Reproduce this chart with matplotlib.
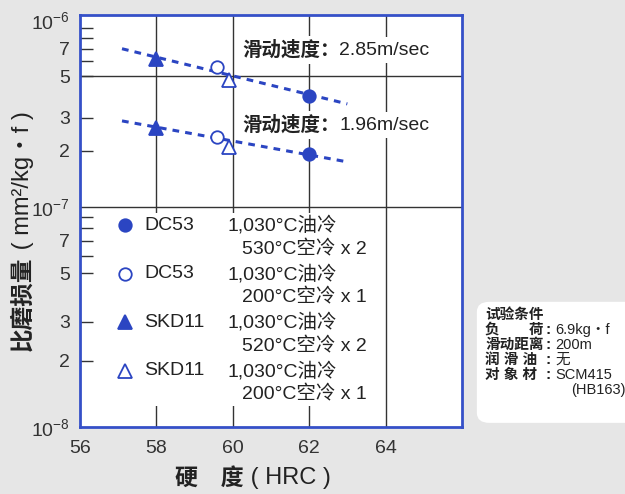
import numpy as np
import matplotlib.pyplot as plt
from matplotlib.patches import Rectangle, FancyBboxPatch
from matplotlib.ticker import FixedLocator, FixedFormatter

plt.rcParams['font.family'] = ['Liberation Sans', 'Noto Sans CJK SC']
plt.rcParams['mathtext.fontset'] = 'custom'
plt.rcParams['mathtext.rm'] = 'Liberation Sans'
plt.rcParams['mathtext.it'] = 'Liberation Sans:italic'

# --- data ---
materials = ['DC53', 'DC53', 'SKD11', 'SKD11']
heat_1 = ['1,030°C油冷', '1,030°C油冷', '1,030°C油冷', '1,030°C油冷']
heat_2 = ['530°C空冷 x 2', '200°C空冷 x 1', '520°C空冷 x 2', '200°C空冷 x 1']
hrc = [62.0, 59.6, 58.0, 59.9]
wear_285 = [3.9e-7, 5.6e-7, 6.2e-7, 4.75e-7]   # 2.85 m/sec
wear_196 = [1.92e-7, 2.36e-7, 2.65e-7, 2.08e-7]  # 1.96 m/sec
trend_x = [57.1, 63.0]
trend_285 = [7.0e-7, 3.55e-7]
trend_196 = [2.88e-7, 1.74e-7]

cond_labels = ['负　　荷', '滑动距离', '润 滑 油', '对 象 材']
cond_values = ['6.9kg・f', '200m', '无', 'SCM415']

# --- styles ---
blue = '#2b45c2'
ink = '#222222'
marks = ['o', 'o', '^', '^']
filled = [True, False, True, False]


# the printed chart has a shorter upper decade than lower decade
def fwd(y):
    l = np.log10(np.clip(y, 1e-300, None)) + 7
    return np.where(l >= 0, l * 0.85, l)


def inv(v):
    v = np.asarray(v, dtype=float)
    return np.where(v >= 0, 10 ** (v / 0.85 - 7), 10 ** (v - 7))


fig = plt.figure(figsize=(6.25, 4.94), dpi=100, facecolor='#e6e6e6')
ax = fig.add_axes([0.128, 0.1356, 0.611, 0.834])
ax.set_facecolor('white')
ax.set_yscale('function', functions=(fwd, inv))
ax.set_xlim(56, 66)
ax.set_ylim(1e-8, 1.06e-6)

# grid
for gx in (58, 60, 62, 64):
    ax.axvline(gx, color='#333333', lw=1.0, zorder=1)
for gy in (5e-7, 1e-7):
    ax.axhline(gy, color='#333333', lw=1.0, zorder=1)

# white legend area that hides the grid
ax.add_patch(Rectangle((0.05, 0.05), 0.735, 0.47, transform=ax.transAxes,
                       facecolor='white', edgecolor='none', zorder=2))

# trend lines
for ty in (trend_285, trend_196):
    ax.plot(trend_x, ty, color=blue, lw=2.2, ls=(0, (2.2, 2.0)), zorder=3)

# points
for i in range(len(hrc)):
    fc = blue if filled[i] else 'white'
    ms = 9 if marks[i] == 'o' else 10
    for wy in (wear_285, wear_196):
        ax.plot(hrc[i], wy[i], marker=marks[i], ms=ms, mfc=fc, mec=blue,
                mew=1.3, ls='none', zorder=4)

# speed labels
for ypos, spd in ((0.915, '2.85m/sec'), (0.733, '1.96m/sec')):
    t1 = ax.text(0.424, ypos, '滑动速度：', transform=ax.transAxes, fontsize=14,
                 fontweight='bold', color=ink, va='center', ha='left',
                 bbox=dict(facecolor='white', edgecolor='none', pad=3), zorder=5)
    ax.annotate(spd, xy=(1, 0.5), xycoords=t1, va='center', ha='left',
                fontsize=14, color=ink,
                bbox=dict(facecolor='white', edgecolor='none', pad=3), zorder=6)

# legend
for i in range(len(materials)):
    y1 = 0.490 - 0.1177 * i
    y2 = y1 - 0.058
    fc = blue if filled[i] else 'white'
    ax.plot(0.118, y1, marker=marks[i], ms=9 if marks[i] == 'o' else 10,
            mfc=fc, mec=blue, mew=1.3, transform=ax.transAxes, zorder=5,
            clip_on=False)
    ax.text(0.168, y1, materials[i], transform=ax.transAxes, fontsize=14,
            color=ink, va='center', ha='left', zorder=5)
    ax.text(0.385, y1, heat_1[i], transform=ax.transAxes, fontsize=14,
            color=ink, va='center', ha='left', zorder=5)
    ax.text(0.424, y2, heat_2[i], transform=ax.transAxes, fontsize=14,
            color=ink, va='center', ha='left', zorder=5)

# axes styling
for sp in ax.spines.values():
    sp.set_color('#3550c8')
    sp.set_linewidth(2.0)
    sp.set_zorder(7)

ax.xaxis.set_major_locator(FixedLocator([56, 58, 60, 62, 64]))
ax.tick_params(axis='x', length=0, pad=9, labelsize=14, labelcolor='#333333')

ax.yaxis.set_major_locator(FixedLocator([1e-8, 1e-7, 1e-6]))
ax.yaxis.set_major_formatter(FixedFormatter([r'$10^{-8}$', r'$10^{-7}$', r'$10^{-6}$']))
minor = []
minor_lab = []
for dec in (1e-8, 1e-7):
    for m in (2, 3, 5, 6, 7, 8, 9):
        minor.append(m * dec)
        minor_lab.append(str(m) if m in (2, 3, 5, 7) else '')
ax.yaxis.set_minor_locator(FixedLocator(minor))
ax.yaxis.set_minor_formatter(FixedFormatter(minor_lab))
ax.tick_params(axis='y', which='major', length=0, pad=7, labelsize=14,
               labelcolor='#333333')
ax.tick_params(axis='y', which='minor', direction='in', length=9, width=1.0,
               color='#333333', pad=7, labelsize=14, labelcolor='#333333')

# axis titles
yl = fig.text(0.036, 0.29, '比磨损量', rotation=90, fontsize=17,
              fontweight='bold', color=ink, ha='center', va='bottom')
ax.annotate(' ( mm²/kg・f )', xy=(0.5, 1), xycoords=yl, rotation=90,
            fontsize=17, color=ink, ha='center', va='bottom',
            annotation_clip=False)
xl = fig.text(0.28, 0.032, '硬　度', fontsize=16.5, fontweight='bold',
              color=ink, ha='left', va='center')
ax.annotate(' ( HRC )', xy=(1, 0.5), xycoords=xl, fontsize=17, color=ink,
            ha='left', va='center', annotation_clip=False)

# test conditions box
fig.add_artist(FancyBboxPatch((0.763, 0.144), 0.26, 0.245,
                              boxstyle='round,pad=0,rounding_size=0.02',
                              transform=fig.transFigure, facecolor='white',
                              edgecolor='none'))
fig.text(0.776, 0.362, '试验条件', fontsize=10.5, fontweight='bold', color=ink,
         va='center', ha='left')
for i in range(len(cond_labels)):
    yy = 0.332 - 0.0303 * i
    fig.text(0.776, yy, cond_labels[i], fontsize=10.5, fontweight='bold',
             color=ink, va='center', ha='left')
    fig.text(0.877, yy, ':', fontsize=11, fontweight='bold', color=ink,
             va='center', ha='center')
    fig.text(0.888, yy, cond_values[i], fontsize=10.5, color=ink,
             va='center', ha='left')
fig.text(0.913, 0.211, '(HB163)', fontsize=10.5, color=ink, va='center',
         ha='left')

fig.savefig('out.png', dpi=100, facecolor=fig.get_facecolor())
